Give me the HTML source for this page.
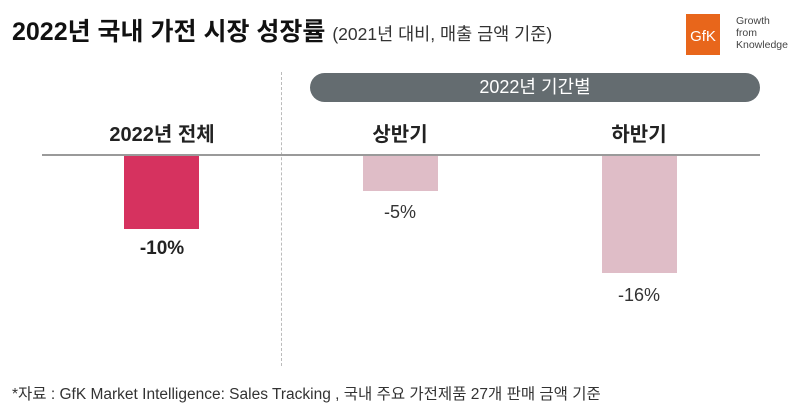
<!DOCTYPE html>
<html><head><meta charset="utf-8"><style>
body{margin:0;width:800px;height:411px;background:#fff;position:relative;overflow:hidden;font-family:"Liberation Sans","Noto Sans CJK KR",sans-serif;color:#222}
.a{position:absolute;white-space:nowrap}
.c{transform:translateX(-50%)}
</style></head><body>
<div class="a" style="left:12px;top:12px;font-size:25px;font-weight:bold;color:#111">2022년 국내 가전 시장 성장률 <span style="font-size:17.5px;font-weight:normal;color:#333">(2021년 대비, 매출 금액 기준)</span></div>
<div class="a" style="left:686px;top:14px;width:34px;height:41px;background:#e8661b;color:#fff;font-size:15px;line-height:45px;text-align:center">GfK</div>
<div class="a" style="left:736px;top:15px;font-size:10.5px;line-height:12px;color:#444">Growth<br>from<br>Knowledge</div>
<div class="a" style="left:281px;top:72px;height:294px;border-left:1px dashed #bbb"></div>
<div class="a" style="left:310px;top:73px;width:450px;height:29px;background:#646c70;border-radius:15px;color:#fff;font-size:18px;line-height:29px;text-align:center">2022년 기간별</div>
<div class="a c" style="left:162px;top:118px;font-size:20px;font-weight:bold">2022년 전체</div>
<div class="a c" style="left:400px;top:118px;font-size:20px;font-weight:bold">상반기</div>
<div class="a c" style="left:639px;top:118px;font-size:20px;font-weight:bold">하반기</div>
<div class="a" style="left:42px;top:154px;width:718px;height:2px;background:#9a9a9a"></div>
<div class="a" style="left:124px;top:156px;width:75px;height:73px;background:#d6325f"></div>
<div class="a" style="left:363px;top:156px;width:75px;height:35px;background:#dfbdc7"></div>
<div class="a" style="left:602px;top:156px;width:75px;height:117px;background:#dfbdc7"></div>
<div class="a c" style="left:162px;top:238px;font-size:19px;font-weight:bold">-10%</div>
<div class="a c" style="left:400px;top:202px;font-size:18px;color:#333">-5%</div>
<div class="a c" style="left:639px;top:285px;font-size:18px;color:#333">-16%</div>
<div class="a" style="left:12px;top:382px;font-size:15.5px;color:#333">*자료 : GfK Market Intelligence: Sales Tracking , 국내 주요 가전제품 27개 판매 금액 기준</div>
</body></html>
